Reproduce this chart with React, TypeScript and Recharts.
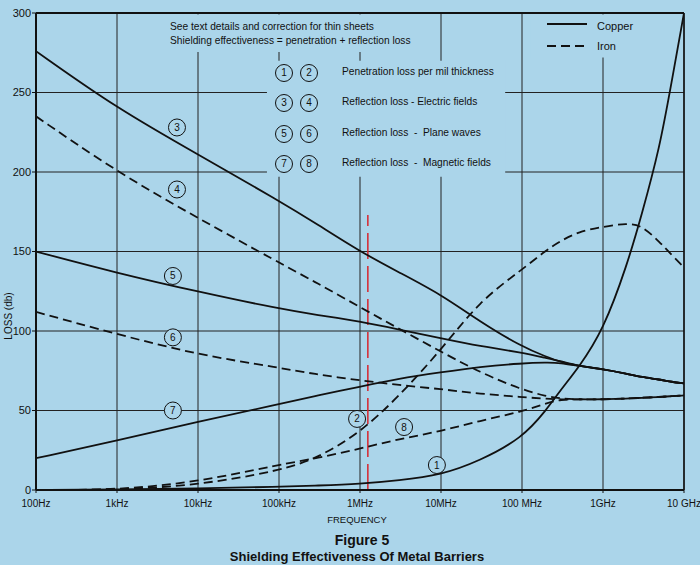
import React from 'react';
import { LineChart, Line, XAxis, YAxis, CartesianGrid, ReferenceArea, ReferenceLine, ReferenceDot } from 'recharts';

const BG = '#abd5ea';
const FONT = '"Liberation Sans", Arial, sans-serif';

// frequency in Hz
const freqs = [1e2, 1e3, 1e4, 1e5, 3e5, 1e6, 3e6, 1e7, 3e7, 1e8, 2e8, 3e8, 5e8, 1e9, 2e9, 3e9, 5e9, 7e9, 1e10];

// loss in db, curves numbered as in the figure
const cuPenetration = [0, 0.3, 1, 2, 2.8, 3.8, 6, 9.4, 18.3, 32.5, 50.3, 63, 77, 100, 142, 173, 215, 256, 300]; // 1
const fePenetration = [0, 0, 3, 12, 20, 36, 58.7, 88, 119, 138.5, 151, 156.6, 162.5, 165.6, 167.8, 166.5, 156, 148, 140]; // 2
const cuElectric = [276, 240, 211, 182, 167, 150, 137, 123, 106, 90, 83.8, 80.5, 78, 76, 73, 71, 69.5, 68, 67]; // 3
const feElectric = [235, 200, 171, 143, 130, 115, 101.5, 87, 74, 63, 59, 57.5, 57, 57, 57.5, 58, 58.5, 59, 59.5]; // 4
const cuPlane = [150, 136.5, 124.7, 114, 110, 106, 101, 95.5, 90.5, 86.5, 83, 81, 78, 76, 73, 71, 69.5, 68, 67]; // 5
const fePlane = [112, 98, 85, 77, 72.5, 69, 66, 63.5, 60.5, 58.5, 57.3, 57, 57, 57, 57.5, 58, 58.5, 59, 59.5]; // 6
const cuMagnetic = [20, 31, 43, 54, 59.5, 65, 70, 74, 77.5, 79.7, 80.2, 80, 78, 76, 73, 71, 69.5, 68, 67]; // 7
const feMagnetic = [0, 0, 5, 16, 20, 26, 32, 37, 43.5, 49.3, 54.5, 57, 57, 57, 57.5, 58, 58.5, 59, 59.5]; // 8

const xTicks = [1e2, 1e3, 1e4, 1e5, 1e6, 1e7, 1e8, 1e9, 1e10];
const xTickLabels = ['100Hz', '1kHz', '10kHz', '100kHz', '1MHz', '10MHz', '100 MHz', '1GHz', '10 GHz'];
const yTicks = [0, 50, 100, 150, 200, 250, 300];

// curve number tags: [freq, loss, label]
const curveTags: [number, number, string][] = [
  [8.9e6, 15.7, '1'],
  [9.2e5, 44.7, '2'],
  [5.5e3, 228, '3'],
  [5.5e3, 189, '4'],
  [4.9e3, 134.6, '5'],
  [4.9e3, 96, '6'],
  [4.9e3, 50, '7'],
  [3.5e6, 39.6, '8'],
];

const keyRows = [
  ['1', '2', 'Penetration loss per mil thickness'],
  ['3', '4', 'Reflection loss - Electric fields'],
  ['5', '6', 'Reflection loss  -  Plane waves'],
  ['7', '8', 'Reflection loss  -  Magnetic fields'],
];

const data = freqs.map((f, i) => ({
  f,
  c1: cuPenetration[i],
  c2: fePenetration[i],
  c3: cuElectric[i],
  c4: feElectric[i],
  c5: cuPlane[i],
  c6: fePlane[i],
  c7: cuMagnetic[i],
  c8: feMagnetic[i],
}));

const solid = { stroke: '#111', strokeWidth: 1.8, dot: false, isAnimationActive: false, type: 'basis' as const };
const dashed = { ...solid, strokeDasharray: '9 5' };

const Tag = (props: any) => {
  const { cx, cy, label } = props;
  return (
    <g>
      <circle cx={cx} cy={cy} r={8.5} fill={BG} stroke="#111" strokeWidth={1} />
      <text x={cx} y={cy + 3.5} textAnchor="middle" fontSize={10} fontFamily={FONT} fill="#111">{label}</text>
    </g>
  );
};

const circleStyle: React.CSSProperties = {
  position: 'absolute', width: 16, height: 16, borderRadius: '50%', border: '1px solid #111',
  fontSize: 10, lineHeight: '16px', textAlign: 'center',
};

export default function App() {
  return (
    <div style={{ position: 'absolute', left: 0, top: 0, width: 700, height: 565, background: BG, fontFamily: FONT, color: '#111' }}>
      <LineChart width={700} height={565} data={data} margin={{ top: 13, right: 16, bottom: 55, left: 0 }}>
        <CartesianGrid stroke="#222" strokeWidth={1} horizontalValues={yTicks} verticalValues={xTicks} />
        <ReferenceArea x1={4.6e3} x2={5.5e6} y1={275.5} y2={299} fill={BG} fillOpacity={1} stroke="none" />
        <ReferenceArea x1={7.1e4} x2={6.2e7} y1={197} y2={270} fill={BG} fillOpacity={1} stroke="none" />
        <ReferenceArea x1={1.26e8} x2={8.9e9} y1={272} y2={299} fill={BG} fillOpacity={1} stroke="none" />
        <XAxis
          dataKey="f"
          type="number"
          scale="log"
          domain={[100, 1e10]}
          ticks={xTicks}
          tickFormatter={(v: number) => xTickLabels[xTicks.indexOf(v)] ?? ''}
          tick={{ fill: '#111', fontSize: 10, fontFamily: FONT }}
          tickSize={3}
          tickMargin={7}
          axisLine={{ stroke: '#111', strokeWidth: 2 }}
          tickLine={{ stroke: '#111' }}
          height={20}
          allowDataOverflow
        />
        <YAxis
          type="number"
          domain={[0, 300]}
          ticks={yTicks}
          tick={{ fill: '#111', fontSize: 11, fontFamily: FONT }}
          tickSize={4}
          tickMargin={1}
          axisLine={{ stroke: '#111', strokeWidth: 2 }}
          tickLine={{ stroke: '#111' }}
          width={36}
        />
        <ReferenceLine y={300} stroke="#111" strokeWidth={2} />
        <ReferenceLine x={1e10} stroke="#111" strokeWidth={1.5} />
        <ReferenceLine segment={[{ x: 1.25e6, y: 0 }, { x: 1.25e6, y: 173 }]} stroke="#d8262e" strokeWidth={1.5} strokeDasharray="26 7" />
        <Line dataKey="c1" {...solid} />
        <Line dataKey="c3" {...solid} />
        <Line dataKey="c5" {...solid} />
        <Line dataKey="c7" {...solid} />
        <Line dataKey="c2" {...dashed} />
        <Line dataKey="c4" {...dashed} />
        <Line dataKey="c6" {...dashed} />
        <Line dataKey="c8" {...dashed} />
        {curveTags.map(([x, y, label]) => (
          <ReferenceDot key={label} x={x} y={y} r={8.5} shape={(p: any) => <Tag {...p} label={label} />} />
        ))}
      </LineChart>

      <div style={{ position: 'absolute', left: 170, top: 20, fontSize: 10.2, lineHeight: '14px', whiteSpace: 'pre' }}>
        <div>See text details and correction for thin sheets</div>
        <div>Shielding effectiveness = penetration + reflection loss</div>
      </div>

      {keyRows.map(([a, b, text], i) => {
        const cy = 73 + i * 30.4;
        return (
          <React.Fragment key={a}>
            <div style={{ ...circleStyle, left: 275, top: cy - 9 }}>{a}</div>
            <div style={{ ...circleStyle, left: 300, top: cy - 9 }}>{b}</div>
            <div style={{ position: 'absolute', left: 342, top: cy - 7, fontSize: 10.2, whiteSpace: 'pre' }}>{text}</div>
          </React.Fragment>
        );
      })}

      <svg style={{ position: 'absolute', left: 545, top: 15 }} width={45} height={40}>
        <line x1={2} y1={9} x2={42} y2={9} stroke="#111" strokeWidth={1.8} />
        <line x1={2} y1={31} x2={42} y2={31} stroke="#111" strokeWidth={1.8} strokeDasharray="9 5" />
      </svg>
      <div style={{ position: 'absolute', left: 597, top: 20, fontSize: 11 }}>Copper</div>
      <div style={{ position: 'absolute', left: 597, top: 40, fontSize: 11 }}>Iron</div>

      <div style={{ position: 'absolute', left: 2, top: 316, width: 0, height: 0 }}>
        <div style={{ transform: 'translate(-50%, -50%) rotate(-90deg)', position: 'absolute', left: 6, top: 0, fontSize: 10, whiteSpace: 'nowrap' }}>LOSS (db)</div>
      </div>
      <div style={{ position: 'absolute', left: 0, width: 714, top: 514, textAlign: 'center', fontSize: 9.5 }}>FREQUENCY</div>
      <div style={{ position: 'absolute', left: 0, width: 724, top: 532, textAlign: 'center', fontSize: 14, fontWeight: 'bold' }}>Figure 5</div>
      <div style={{ position: 'absolute', left: 0, width: 714, top: 549, textAlign: 'center', fontSize: 13, fontWeight: 'bold' }}>Shielding Effectiveness Of Metal Barriers</div>
    </div>
  );
}
